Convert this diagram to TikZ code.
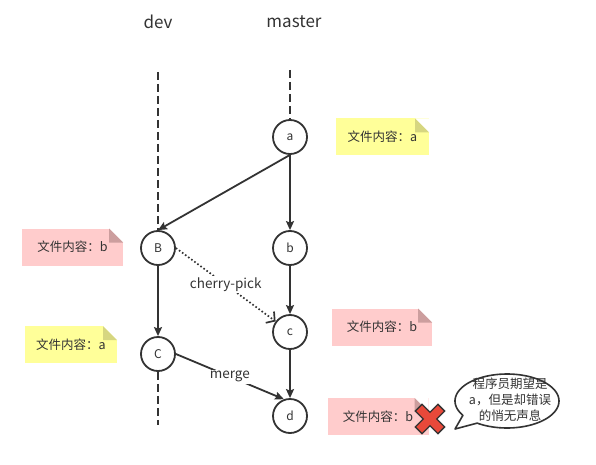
\documentclass[tikz,border=0pt]{standalone}
\usepackage{fontspec}
\setmainfont{Noto Sans CJK SC}
\usetikzlibrary{arrows.meta,calc}
\definecolor{ln}{HTML}{333333}
\definecolor{ynotec}{HTML}{FFFF99}
\definecolor{yfoldc}{HTML}{D6D680}
\definecolor{pnotec}{HTML}{FFCCCC}
\definecolor{pfoldc}{HTML}{CC9E9E}
\definecolor{xred}{HTML}{E8493A}
\begin{document}
\begin{tikzpicture}[x=1pt,y=-1pt,
  hdr/.style={font=\fontsize{17}{20}\selectfont, text=ln},
  commit/.style={circle, draw=ln, line width=1.8pt, minimum size=34pt, inner sep=0pt, fill=white, font=\fontsize{12}{14}\selectfont, text=ln},
  lifeline/.style={draw=ln, line width=2pt, dash pattern=on 8pt off 4pt},
  flow/.style={draw=ln, line width=1.8pt, -{Stealth[length=9pt,width=8pt,inset=1.5pt]}},
  note/.style={minimum height=37pt, inner sep=0pt, font=\fontsize{12.5}{15}\selectfont, text=ln,
    path picture={
      \fill[white] ([xshift=-14pt]path picture bounding box.north east) -- (path picture bounding box.north east) -- ([yshift=-14pt]path picture bounding box.north east) -- cycle;
      \fill[#1] ([xshift=-14pt]path picture bounding box.north east) -- ([xshift=-14pt,yshift=-14pt]path picture bounding box.north east) -- ([yshift=-14pt]path picture bounding box.north east) -- cycle;}},
  ynote/.style={note=yfoldc, fill=ynotec},
  pnote/.style={note=pfoldc, fill=pnotec},
  elabel/.style={fill=white, inner sep=1.5pt, font=\fontsize{13.5}{16}\selectfont, text=ln}
]
\useasboundingbox (0,0) rectangle (596,465);

% headers
\node[hdr] (dev) at (158,22) {dev};
\node[hdr] (master) at (294,22) {master};

% lifeline ends
\coordinate (devtop) at (158,72);
\coordinate (mtop) at (290,70);
\coordinate (devbot) at (158,425);

% commits
\node[commit] (a) at (290,137) {a};
\node[commit] (B) at (158,248) {B};
\node[commit] (b) at (290,248) {b};
\node[commit] (C) at (158,354) {C};
\node[commit] (c) at (290,332) {c};
\node[commit] (d) at (290,416) {d};

% lifelines
\draw[lifeline] (devtop) -- (B.north);
\draw[lifeline] (mtop) -- (a.north);
\draw[lifeline] (C.south) -- (devbot);

% edges
\draw[flow] (a.south) -- (B.north);
\draw[flow] (a) -- (b);
\draw[flow] (b) -- (c);
\draw[flow] (c) -- (d);
\draw[flow] (B) -- (C);
\draw[draw=ln, line width=1.7pt, dash pattern=on 1.6pt off 2.2pt, -{Straight Barb[length=6pt,width=14pt]}] (B.east) -- node[elabel] (cp) {cherry-pick} (c);
\draw[flow] (C.east) -- node[elabel] (mg) {merge} (d.110);

% notes
\node[ynote, minimum width=93pt] (n1) at (382.5,137) {文件内容：a};
\node[pnote, minimum width=101pt] (n2) at (72.5,247) {文件内容：b};
\node[ynote, minimum width=92pt] (n3) at (71,344.5) {文件内容：a};
\node[pnote, minimum width=100pt] (n4) at (382,327) {文件内容：b};
\node[pnote, minimum width=101pt] (n5) at (378,416.5) {文件内容：b};

% red cross
\begin{scope}[shift={(430,419)}, rotate=45]
  \filldraw[fill=xred, draw=ln, line width=1.3pt, line join=miter]
    (4.8,4.8) -- (4.8,16) -- (-4.8,16) -- (-4.8,4.8) -- (-16,4.8) -- (-16,-4.8) -- (-4.8,-4.8)
    -- (-4.8,-16) -- (4.8,-16) -- (4.8,-4.8) -- (16,-4.8) -- (16,4.8) -- cycle;
\end{scope}

% speech bubble
\filldraw[fill=white, draw=ln, line width=1.6pt, line join=round]
  plot[domain=148:485, samples=90, smooth] ({507+52*cos(\x)}, {401+27*sin(\x)}) -- (455,429) -- cycle;
\node[align=center, font=\fontsize{12.5}{16}\selectfont, text=ln] (bub) at (510,400) {程序员期望是\\a，但是却错误\\的悄无声息};
\end{tikzpicture}
\end{document}
